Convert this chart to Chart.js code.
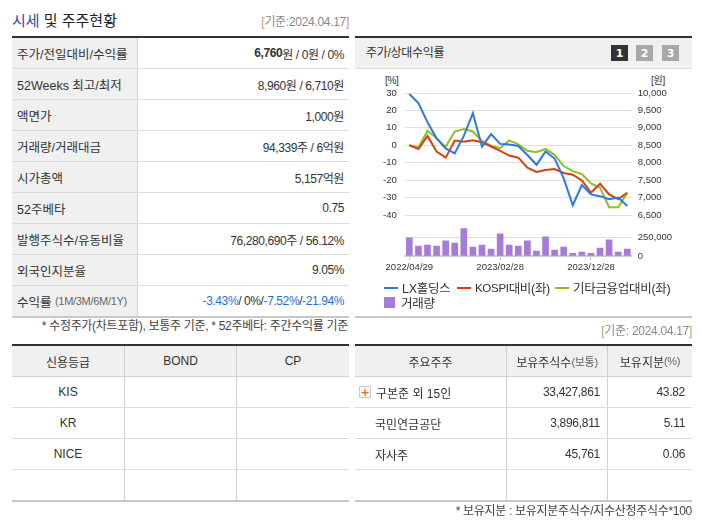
<!DOCTYPE html>
<html lang="ko">
<head>
<meta charset="utf-8">
<script src="https://cdn.jsdelivr.net/npm/chart.js@4.4.1/dist/chart.umd.min.js"></script>
<style>
  html, body { margin: 0; padding: 0; background: #fff; }
  body { width: 702px; height: 525px; position: relative; overflow: hidden;
    font-family: 'Liberation Sans', 'Noto Sans CJK KR', sans-serif; font-size: 12px; color: #333; }
  .abs { position: absolute; }
  .line1 { line-height: 14px; white-space: nowrap; letter-spacing: -0.3px; }
  .tbl { position: absolute; border-top: 2px solid #333; border-bottom: 2px solid #c8c8c8; }
  .row { display: flex; height: 30px; border-bottom: 1px solid #dcdcdc; }
  .row:last-child { border-bottom: none; }
  .lab { box-sizing: border-box; width: 126px; padding-left: 5px; background: #f0f0f0;
    border-right: 1px solid #cfcfcf; display: flex; align-items: center; white-space: nowrap; font-size: 12.5px; }
  .val { flex: 1; display: flex; align-items: center; justify-content: flex-end; padding-right: 5px;
    white-space: nowrap; letter-spacing: -0.4px; }
  .c { box-sizing: border-box; display: flex; align-items: center; white-space: nowrap; border-right: 1px solid #cfcfcf; }
  .c:last-child { border-right: none; }
  .head { background: #f0f0f0; border-bottom: 1px solid #cfcfcf; }
  .ctr { justify-content: center; }
  .rgt { justify-content: flex-end; padding-right: 7px; letter-spacing: -0.3px; }
  .small { font-size: 11px; color: #666; letter-spacing: -0.3px; }
  .blue { color: #1f6fd6; }
  .btn { position: absolute; top: 45px; width: 17px; height: 16px; color: #fff; font: bold 11px 'DejaVu Sans', sans-serif;
    display: flex; align-items: center; justify-content: center; }
  .leg { position: absolute; display: flex; align-items: center; font-size: 12.5px; color: #333; white-space: nowrap; letter-spacing: -0.3px; }
  .mk { display: inline-block; width: 14px; height: 2px; margin-right: 4px; }
  .plus { display: inline-flex; width: 10px; height: 10px; border: 1px solid #c8c8c8; background: #f6f6f6;
    color: #f06a10; font: bold 11px 'DejaVu Sans', sans-serif; align-items: center; justify-content: center; margin-right: 5px; }
</style>
</head>
<body>

<!-- header -->
<div class="abs line1" style="left:12px;top:14px;font-size:15px;color:#222;letter-spacing:0;"><span style="color:#3a48a6;">시세</span> 및 주주현황</div>
<div class="abs line1" style="right:353px;top:15px;color:#888;"><span style="color:#c09a6a;">[</span>기준:2024.04.17<span style="color:#c09a6a;">]</span></div>

<!-- left summary table -->
<div class="tbl" style="left:12px;top:36px;width:337px;">
  <div class="row"><div class="lab">주가/전일대비/수익률</div><div class="val"><b>6,760</b>원 / 0원 / 0%</div></div>
  <div class="row"><div class="lab">52Weeks 최고/최저</div><div class="val">8,960원 / 6,710원</div></div>
  <div class="row"><div class="lab">액면가</div><div class="val">1,000원</div></div>
  <div class="row"><div class="lab">거래량/거래대금</div><div class="val">94,339주 / 6억원</div></div>
  <div class="row"><div class="lab">시가총액</div><div class="val">5,157억원</div></div>
  <div class="row"><div class="lab">52주베타</div><div class="val">0.75</div></div>
  <div class="row"><div class="lab">발행주식수/유동비율</div><div class="val">76,280,690주 / 56.12%</div></div>
  <div class="row"><div class="lab">외국인지분율</div><div class="val">9.05%</div></div>
  <div class="row"><div class="lab">수익률&nbsp;<span class="small">(1M/3M/6M/1Y)</span></div><div class="val"><span class="blue">-3.43%</span>/ 0%/ <span class="blue">-7.52%</span>/ <span class="blue">-21.94%</span></div></div>
</div>
<div class="abs line1" style="right:354px;top:319px;color:#444;">* 수정주가(차트포함), 보통주 기준, * 52주베타: 주간수익률 기준</div>

<!-- chart panel -->
<div class="abs" style="left:355px;top:36px;width:337px;height:30px;border-top:2px solid #333;border-bottom:1px solid #dcdcdc;background:#f0f0f0;"></div>
<div class="abs line1" style="left:366px;top:46px;color:#333;">주가/상대수익률</div>
<div class="btn" style="left:611px;background:#333;">1</div>
<div class="btn" style="left:636px;background:#a8a8a8;">2</div>
<div class="btn" style="left:662px;background:#a8a8a8;">3</div>
<div class="abs line1" style="left:385px;top:74px;font-size:10px;">[%]</div>
<div class="abs line1" style="left:651px;top:74px;font-size:10px;">[원]</div>

<div class="abs" style="left:356px;top:81px;width:336px;height:142px;"><canvas id="lineChart"></canvas></div>
<div class="abs" style="left:356px;top:220px;width:336px;height:56px;"><canvas id="barChart"></canvas></div>

<div class="leg" style="left:384px;top:278px;"><span class="mk" style="background:#2f78e0;"></span>LX홀딩스</div>
<div class="leg" style="left:457px;top:278px;"><span class="mk" style="background:#d8400f;"></span><span style="font-size:11.5px;">KOSPI</span>대비(좌)</div>
<div class="leg" style="left:555px;top:278px;"><span class="mk" style="background:#8cc21e;"></span>기타금융업대비(좌)</div>
<div class="leg" style="left:384px;top:293px;"><span class="mk" style="width:11px;height:11px;margin-right:6px;background:#a67bd9;"></span>거래량</div>
<div class="abs" style="left:355px;top:316px;width:337px;height:2px;background:#c8c8c8;"></div>

<!-- credit rating table -->
<div class="tbl" style="left:12px;top:344px;width:337px;">
  <div class="row head"><div class="c ctr" style="width:113px;">신용등급</div><div class="c ctr" style="width:112px;">BOND</div><div class="c ctr" style="flex:1;">CP</div></div>
  <div class="row"><div class="c ctr" style="width:113px;">KIS</div><div class="c" style="width:112px;"></div><div class="c" style="flex:1;"></div></div>
  <div class="row"><div class="c ctr" style="width:113px;">KR</div><div class="c" style="width:112px;"></div><div class="c" style="flex:1;"></div></div>
  <div class="row"><div class="c ctr" style="width:113px;">NICE</div><div class="c" style="width:112px;"></div><div class="c" style="flex:1;"></div></div>
  <div class="row"><div class="c" style="width:113px;"></div><div class="c" style="width:112px;"></div><div class="c" style="flex:1;"></div></div>
</div>

<!-- shareholder table -->
<div class="abs line1" style="right:10px;top:324px;color:#888;"><span style="color:#c09a6a;">[</span>기준: 2024.04.17<span style="color:#c09a6a;">]</span></div>
<div class="tbl" style="left:355px;top:344px;width:337px;">
  <div class="row head"><div class="c ctr" style="width:152px;">주요주주</div><div class="c ctr" style="width:101px;">보유주식수<span class="small">(보통)</span></div><div class="c ctr" style="flex:1;">보유지분<span class="small">(%)</span></div></div>
  <div class="row"><div class="c" style="width:152px;padding-left:4px;"><span class="plus">+</span>구본준 외 15인</div><div class="c rgt" style="width:101px;">33,427,861</div><div class="c rgt" style="flex:1;">43.82</div></div>
  <div class="row"><div class="c" style="width:152px;padding-left:20px;">국민연금공단</div><div class="c rgt" style="width:101px;">3,896,811</div><div class="c rgt" style="flex:1;">5.11</div></div>
  <div class="row"><div class="c" style="width:152px;padding-left:20px;">자사주</div><div class="c rgt" style="width:101px;">45,761</div><div class="c rgt" style="flex:1;">0.06</div></div>
  <div class="row"><div class="c" style="width:152px;"></div><div class="c" style="width:101px;"></div><div class="c" style="flex:1;"></div></div>
</div>
<div class="abs line1" style="right:10px;top:504px;color:#444;">* 보유지분 : 보유지분주식수/지수산정주식수*100</div>

<script>
// 월말 기준 날짜
const dates = [
  '2022/04/29', '2022/05/31', '2022/06/30', '2022/07/29', '2022/08/31', '2022/09/30',
  '2022/10/31', '2022/11/30', '2022/12/29', '2023/01/31', '2023/02/28', '2023/03/31',
  '2023/04/28', '2023/05/31', '2023/06/30', '2023/07/31', '2023/08/31', '2023/09/27',
  '2023/10/31', '2023/11/30', '2023/12/28', '2024/01/31', '2024/02/29', '2024/03/29',
  '2024/04/17'
];
// LX홀딩스 주가 (원, 우축)
const lxPrice = [9970, 9710, 9160, 8700, 8410, 8270, 8770, 9420, 8460, 8820, 8540, 8520,
  8480, 8220, 7940, 8320, 8120, 7550, 6780, 7360, 7090, 7040, 6950, 7000, 6760];
// KOSPI 대비 상대수익률 (%, 좌축)
const kospiRel = [0, -2.1, 5.4, -3.6, -7.1, 2.7, 2.1, 2.9, 1.8, -0.7, -3.2, -5.9,
  -7.1, -12.8, -15.3, -14.2, -13.6, -15.9, -16.9, -20.2, -27.2, -22.1, -28.2, -30.9, -27.2];
// 기타금융업 대비 상대수익률 (%, 좌축)
const sectorRel = [0, -1.3, 8.3, 4.1, -0.9, 7.9, 9.3, 7.9, 2.5, -0.2, -1.7, 2.8,
  0.5, -3.2, -4.0, -2.1, -5.5, -11.9, -14.8, -16.5, -21.9, -24.3, -35.5, -35.5, -27.2];
// 거래량 (주)
const volume = [242000, 132000, 146000, 132000, 201000, 173000, 365000, 119000, 146000, 91000,
  296000, 146000, 132000, 201000, 64000, 255000, 78000, 119000, 37000, 51000,
  37000, 105000, 214000, 51000, 91000];

const leftTicks = [-40, -30, -20, -10, 0, 10, 20, 30];
const volTicks = [0, 250000];

const axisFont = { family: "'Liberation Sans', sans-serif", size: 9.5 };
const LEFT_W = 48.8;
const RIGHT_W = 60.2;

// 축 폭 고정 + 라벨 여백 제거 (두 차트의 플롯 영역을 맞추기 위함)
function fixWidth(w) {
  return axis => { axis.width = w; axis.paddingTop = 0; axis.paddingBottom = 0; };
}

Chart.defaults.font.family = "'Liberation Sans', 'Noto Sans CJK KR', sans-serif";
Chart.defaults.color = '#333';

new Chart(document.getElementById('lineChart'), {
  type: 'line',
  data: {
    labels: dates,
    datasets: [
      { label: 'LX홀딩스', data: lxPrice, yAxisID: 'y1', borderColor: '#2f78e0', borderWidth: 2 },
      { label: 'KOSPI대비(좌)', data: kospiRel, yAxisID: 'y', borderColor: '#d8400f', borderWidth: 2 },
      { label: '기타금융업대비(좌)', data: sectorRel, yAxisID: 'y', borderColor: '#8cc21e', borderWidth: 2 }
    ]
  },
  options: {
    responsive: true,
    maintainAspectRatio: false,
    animation: false,
    layout: { padding: { top: 12, bottom: 8, left: 0, right: 0 } },
    elements: { point: { radius: 0 }, line: { tension: 0 } },
    plugins: { legend: { display: false }, tooltip: { enabled: false } },
    scales: {
      x: { type: 'category', offset: true, display: false },
      y: {
        position: 'left', min: leftTicks[0], max: leftTicks[leftTicks.length - 1],
        afterBuildTicks: axis => { axis.ticks = leftTicks.map(v => ({ value: v })); },
        afterFit: fixWidth(LEFT_W),
        grid: { color: '#dedede', drawTicks: false },
        border: { display: false },
        ticks: { font: axisFont, color: '#333', padding: 8, autoSkip: false }
      },
      y1: {
        position: 'right', min: 6500, max: 10000,
        ticks: { stepSize: 500, font: axisFont, color: '#333', padding: 6, autoSkip: false,
          callback: v => v.toLocaleString('en-US') },
        afterFit: fixWidth(RIGHT_W),
        grid: { display: false, drawTicks: false },
        border: { display: false }
      }
    }
  }
});

new Chart(document.getElementById('barChart'), {
  type: 'bar',
  data: {
    labels: dates,
    datasets: [
      { label: '거래량', data: volume, backgroundColor: '#a67bd9', barThickness: 6, yAxisID: 'y' }
    ]
  },
  options: {
    responsive: true,
    maintainAspectRatio: false,
    animation: false,
    layout: { padding: { top: 6, bottom: 0, left: LEFT_W, right: 0 } },
    plugins: { legend: { display: false }, tooltip: { enabled: false } },
    scales: {
      x: {
        offset: true,
        afterFit: axis => { axis.height = 20; },
        grid: {
          offset: false, drawOnChartArea: false, tickLength: 4,
          tickColor: ctx => (ctx.index % 10 === 0 ? '#c5d0dc' : 'rgba(0,0,0,0)')
        },
        border: { color: '#c5d0dc', width: 2 },
        ticks: {
          autoSkip: false, maxRotation: 0, padding: 2, font: axisFont, color: '#333',
          callback: (v, i) => (i % 10 === 0 ? dates[i] : '')
        }
      },
      y: {
        position: 'right', min: 0, max: 400000,
        afterBuildTicks: axis => { axis.ticks = volTicks.map(v => ({ value: v })); },
        afterFit: fixWidth(RIGHT_W),
        grid: { color: ctx => (ctx.tick && ctx.tick.value === 0 ? 'rgba(0,0,0,0)' : '#dedede'), drawTicks: false },
        border: { display: false },
        ticks: { font: axisFont, color: '#333', padding: 6, autoSkip: false, callback: v => v.toLocaleString('en-US') }
      }
    }
  }
});
</script>
</body>
</html>
